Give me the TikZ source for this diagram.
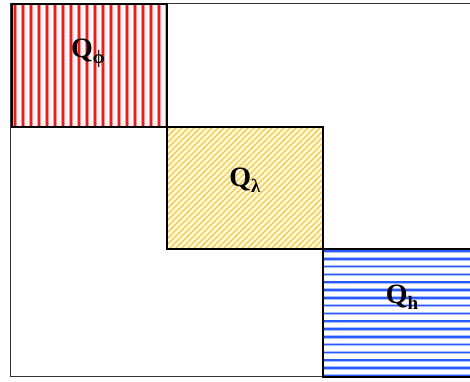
\documentclass[tikz,border=0pt]{standalone}
\usepackage{fontspec}
\setmainfont{Liberation Serif}
\definecolor{stripered}{RGB}{255,20,20}
\definecolor{stripepink}{RGB}{255,150,150}
\definecolor{stripegold}{RGB}{250,200,40}
\definecolor{stripelight}{RGB}{255,236,175}
\definecolor{stripeblue}{RGB}{40,90,255}
\definecolor{stripesky}{RGB}{170,190,255}
\tikzset{
  blockbox/.style={draw=black, line width=1.8pt, inner sep=0pt, anchor=north west},
  lbl/.style={font=\fontsize{28}{32}\selectfont\bfseries, inner sep=0pt},
}
\newcommand{\subsc}[1]{\raisebox{-0.22em}{\fontsize{19}{22}\selectfont #1}}
\begin{document}
\begin{tikzpicture}[x=1pt,y=-1pt]
\clip (0,0) rectangle (470,381);
\fill[white] (0,0) rectangle (470,381);
% outer frame
\draw[line width=1pt, black!80] (10.5,3) rectangle (490,376);
% red vertical stripes
\begin{scope}
\clip (11,3) rectangle (166,126);
\foreach \x in {15,23,...,170} {
  \draw[stripepink, line width=3.4pt] (\x,0) -- (\x,130);
  \draw[stripered, line width=1.6pt] (\x,0) -- (\x,130);
}
\end{scope}
% yellow diagonal stripes
\begin{scope}
\clip (166,126) rectangle (322,248);
\foreach \x in {40,46,...,340} {
  \draw[stripelight, line width=2.6pt] (\x,252) -- (\x+130,122);
  \draw[stripegold, line width=1pt] (\x,252) -- (\x+130,122);
}
\end{scope}
% blue horizontal stripes
\begin{scope}
\clip (322,248) rectangle (480,376);
\foreach \y in {251,258.8,...,380} {
  \draw[stripesky, line width=3.4pt] (318,\y) -- (480,\y);
  \draw[stripeblue, line width=1.6pt] (318,\y) -- (480,\y);
}
\end{scope}
% boxes
\node[blockbox, minimum width=155pt, minimum height=123pt] (qphi) at (11,3) {};
\node[blockbox, minimum width=156pt, minimum height=122pt] (qlam) at (166,126) {};
\node[blockbox, minimum width=160pt, minimum height=128pt] (qh) at (322,248) {};
% labels
\node[lbl] (lphi) at (88,53) {Q\subsc{ϕ}};
\node[lbl] (llam) at (245,180) {Q\subsc{λ}};
\node[lbl] (lh) at (402,297) {Q\subsc{h}};
\end{tikzpicture}
\end{document}
